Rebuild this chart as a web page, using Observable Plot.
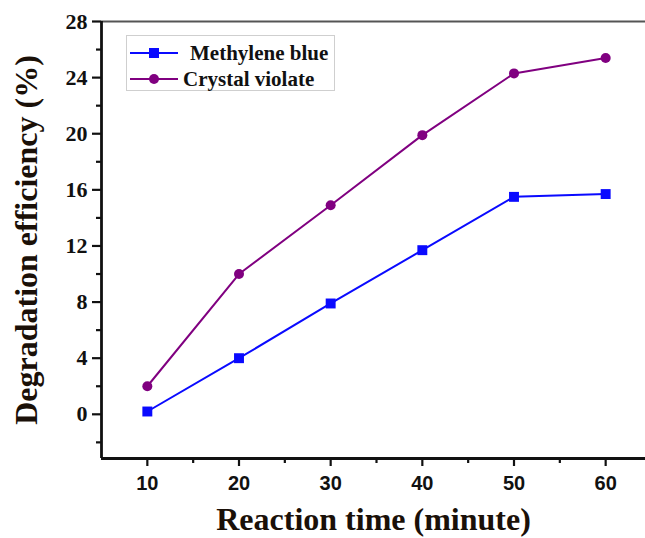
<!DOCTYPE html>
<html>
<head>
<meta charset="utf-8">
<script src="https://cdn.jsdelivr.net/npm/d3@7"></script>
<script src="https://cdn.jsdelivr.net/npm/@observablehq/plot@0.6"></script>
<style>
  html, body { margin: 0; padding: 0; background: #fff; }
  #wrap { position: relative; width: 645px; height: 538px; overflow: hidden; }
  #wrap g[aria-label="y-axis tick label"] text { font-family: "Liberation Serif", "Times New Roman", serif; font-weight: bold; }
  #wrap g[aria-label="x-axis tick label"] text { font-family: "Liberation Sans", Arial, sans-serif; font-weight: bold; }
  #legend {
    position: absolute; left: 126px; top: 35px; width: 209px; height: 56px;
    border: 1.5px solid #cfcfcf; box-sizing: border-box; background: #fff;
    font-family: "Liberation Serif", "Times New Roman", serif; font-weight: bold; font-size: 21px; color: #111;
  }
  .row { position: absolute; left: 0; height: 26px; display: flex; align-items: center; white-space: nowrap; }
  .row svg { display: block; }
</style>
</head>
<body>
<div id="wrap"></div>
<script>
const times = [10, 20, 30, 40, 50, 60];
const methyleneBlue = [0.2, 4.0, 7.9, 11.7, 15.5, 15.7];
const crystalViolet = [2.0, 10.0, 14.9, 19.9, 24.3, 25.4];
const seriesNames = ["Methylene blue", "Crystal violate"];
const seriesColors = ["#0a0aff", "#800080"];
const yMajorTicks = [0, 4, 8, 12, 16, 20, 24, 28];
const yMinorTicks = [-2, 2, 6, 10, 14, 18, 22, 26];
const xMajorTicks = [10, 20, 30, 40, 50, 60];
const xMinorTicks = [15, 25, 35, 45, 55];
const xLabel = "Reaction time (minute)";
const yLabel = "Degradation efficiency (%)";

const data = [
  ...times.map((t, i) => ({time: t, value: methyleneBlue[i], series: seriesNames[0]})),
  ...times.map((t, i) => ({time: t, value: crystalViolet[i], series: seriesNames[1]}))
];
const blue = data.filter(d => d.series === seriesNames[0]);
const violet = data.filter(d => d.series === seriesNames[1]);

const serif = "Liberation Serif, Times New Roman, serif";

const chart = Plot.plot({
  width: 645,
  height: 538,
  marginLeft: 101,
  marginRight: 0,
  marginTop: 21,
  marginBottom: 80,
  x: {domain: [5, 65], range: [101, 651]},
  y: {domain: [-3.15, 28], range: [458, 21]},
  style: {background: "#fff", overflow: "visible", fontFamily: serif},
  marks: [
    Plot.ruleY([28], {stroke: "#555", strokeWidth: 2}),
    Plot.axisY({ticks: yMinorTicks, tickSize: 5, tickFormat: () => "", strokeWidth: 2.2, stroke: "#111", label: null}),
    Plot.axisY({ticks: yMajorTicks, tickSize: 9, tickPadding: 5, strokeWidth: 2.2, stroke: "#111",
      fontSize: 22, fill: "#111", label: null}),
    Plot.axisX({ticks: xMinorTicks, tickSize: 5, tickFormat: () => "", strokeWidth: 2.2, stroke: "#111", label: null}),
    Plot.axisX({ticks: xMajorTicks, tickSize: 8, tickPadding: 9, strokeWidth: 2.2, stroke: "#111",
      fontSize: 20, fill: "#111", label: null}),
    Plot.ruleX([5], {stroke: "#111", strokeWidth: 2.8}),
    Plot.ruleY([-3.15], {stroke: "#111", strokeWidth: 2.8}),
    Plot.line(violet, {x: "time", y: "value", stroke: seriesColors[1], strokeWidth: 2}),
    Plot.line(blue, {x: "time", y: "value", stroke: seriesColors[0], strokeWidth: 2}),
    Plot.dot(violet, {x: "time", y: "value", fill: seriesColors[1], r: 5, symbol: "circle"}),
    Plot.dot(blue, {x: "time", y: "value", fill: seriesColors[0], r: 5.6, symbol: "square"}),
    Plot.text([xLabel], {frameAnchor: "bottom", text: d => d, dy: 61, lineAnchor: "middle", textAnchor: "middle",
      fontSize: 32, fontWeight: "bold", fontFamily: serif, fill: "#1a1008"}),
    Plot.text([yLabel], {frameAnchor: "left", text: d => d, dx: -75, rotate: -90, lineAnchor: "middle", textAnchor: "middle",
      fontSize: 32, fontWeight: "bold", fontFamily: serif, fill: "#1a1008"})
  ]
});

const wrap = document.getElementById("wrap");
wrap.appendChild(chart);

const legend = document.createElement("div");
legend.id = "legend";
const rows = [
  {name: seriesNames[0], color: seriesColors[0], shape: "square", top: 4, gap: 11},
  {name: seriesNames[1], color: seriesColors[1], shape: "circle", top: 30, gap: 4}
];
for (const r of rows) {
  const row = document.createElement("div");
  row.className = "row";
  row.style.top = r.top + "px";
  const marker = r.shape === "square"
    ? `<rect x="22" y="8" width="10" height="10" fill="${r.color}"/>`
    : `<circle cx="27" cy="13" r="5" fill="${r.color}"/>`;
  row.innerHTML = `<svg width="52" height="26"><line x1="3" x2="51" y1="13" y2="13" stroke="${r.color}" stroke-width="2.2"/>${marker}</svg><span style="margin-left:${r.gap}px">${r.name}</span>`;
  legend.appendChild(row);
}
wrap.appendChild(legend);
</script>
</body>
</html>
